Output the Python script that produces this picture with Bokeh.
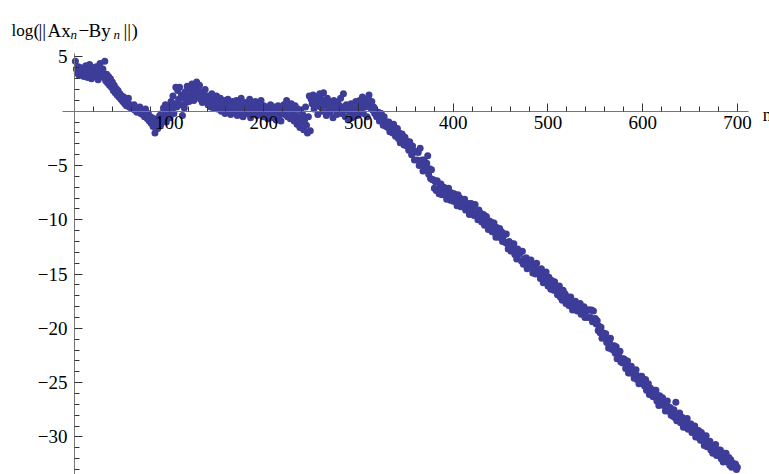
from bokeh.plotting import figure
from bokeh.models import Range1d, FixedTicker, CustomJSTickFormatter, Label
from bokeh.embed import file_html
from bokeh.resources import INLINE

# log(||A x_n - B y_n||), n = 1 .. 700
log_residual = [
    4.6, 3.9, 3.5, 4.1, 3.3, 3.7, 4.0, 3.4, 3.6, 3.2,
    3.9, 4.2, 3.5, 3.1, 3.8, 4.3, 3.6, 3.0, 3.4, 4.0,
    3.7, 3.2, 4.1, 3.5, 2.9, 3.8, 4.4, 3.3, 3.6, 3.9,
    3.1, 4.6, 2.8, 3.4, 2.6, 3.2, 2.4, 3.0, 2.2, 2.7,
    1.9, 2.4, 1.7, 2.1, 1.5, 1.9, 1.3, 1.6, 1.1, 1.4,
    0.9, 1.3, 0.7, 1.0, 0.5, 0.8, 1.2, 0.4, 0.6, 0.3,
    0.5, 0.2, 0.6, 0.1, 0.3, -0.1, 0.2, 0.0, 0.4, -0.2,
    0.1, -0.3, -0.1, -0.5, 0.2, -0.4, -0.7, -0.2, -0.9, -0.5,
    -1.1, -0.6, -1.4, -0.8, -2.0, -1.2, -0.7, -1.6, -1.0, -0.4,
    -1.3, -0.2, -0.8, 0.3, -0.5, 0.6, -1.0, 0.1, -0.3, 0.5,
    -0.6, 0.9, 0.2, 1.4, -0.2, 0.7, 2.2, 0.4, 1.9, 1.1,
    2.2, 0.6, 1.5, -0.4, 1.2, 0.3, 1.8, 0.8, 2.3, 1.4,
    0.9, 2.0, 1.3, 2.5, 1.7, 1.0, 2.2, 1.5, 2.7, 2.0,
    1.4, 2.4, 1.1, 1.8, 0.8, 1.6, 1.2, 2.0, 0.9, 1.4,
    0.6, 1.3, 1.0, 0.4, 1.6, 0.8, 0.3, 1.1, 0.6, 1.4,
    0.2, 0.9, 0.5, 1.2, 0.0, 0.7, 0.3, 1.0, -0.2, 0.6,
    0.4, 1.1, 0.1, 0.8, -0.3, 0.5, 0.9, 0.0, 0.6, 0.2,
    1.0, -0.4, 0.4, 0.7, -0.1, 1.2, 0.3, -0.5, 0.6, 0.1,
    0.8, -0.2, 0.5, 0.0, 1.1, -0.6, 0.3, 0.7, -0.3, 0.4,
    0.9, 0.1, -0.4, 0.6, 0.2, -0.1, 1.0, 0.3, -0.5, 0.5,
    -0.2, 0.4, 0.0, -0.7, 0.3, -0.3, 0.6, -0.1, 0.2, -0.6,
    0.4, -0.2, -0.8, 0.1, 0.5, -0.4, 0.0, -0.9, 0.3, -0.1,
    0.6, -0.3, 0.2, 1.0, -0.5, 0.4, 0.1, -0.7, 0.7, -0.2,
    0.3, -0.9, 0.5, -0.4, -1.2, 0.2, -0.6, -1.5, 0.1, -1.0,
    -0.3, -1.7, -0.8, 0.4, -1.3, -2.0, -0.5, 1.4, -1.8, 1.1,
    0.7, 1.5, 0.2, 1.0, 0.5, 1.3, -0.3, 0.8, 1.6, 0.4,
    1.1, 0.0, 1.7, 0.6, 0.9, -0.4, 1.2, 0.3, 0.7, -0.1,
    0.9, 0.4, -0.6, 1.0, 0.2, 0.6, -0.3, 0.8, 0.0, 0.5,
    1.2, -0.2, 0.3, 1.6, 0.1, -0.5, 0.6, 0.2, -0.8, 0.4,
    -0.1, 0.7, -0.6, 0.3, 0.0, -0.3, 0.9, 0.2, -0.4, 0.5,
    1.0, 0.1, 0.6, 1.3, -0.2, 1.1, 0.4, 0.8, -0.5, 1.2,
    1.5, 0.7, 0.3, 0.9, 0.1, 0.4, -0.2, 0.0, -0.5, -0.3,
    -0.1, -0.9, -0.5, -0.2, -0.9, -1.3, -0.5, -1.0, -1.4, -1.0,
    -1.5, -1.0, -1.9, -1.4, -1.3, -2.0, -1.2, -1.9, -2.3, -1.8,
    -1.6, -2.5, -2.0, -2.9, -2.3, -2.1, -2.8, -3.1, -2.4, -2.8,
    -3.2, -2.8, -3.6, -2.8, -3.3, -4.0, -3.2, -3.8, -4.5, -3.7,
    -3.7, -4.5, -3.8, -5.0, -3.4, -4.8, -4.5, -5.5, -4.5, -5.3,
    -5.4, -4.8, -4.1, -5.8, -5.3, -6.2, -5.4, -6.3, -6.3, -7.1,
    -6.5, -7.3, -6.4, -7.2, -7.6, -6.9, -6.7, -7.7, -7.2, -7.0,
    -7.7, -7.1, -8.1, -7.4, -7.1, -7.9, -8.2, -7.5, -7.8, -8.3,
    -7.6, -8.3, -8.0, -8.7, -7.7, -8.3, -8.0, -8.8, -8.2, -8.7,
    -8.7, -8.1, -9.1, -8.5, -9.1, -8.5, -9.5, -8.8, -8.5, -9.3,
    -8.8, -9.6, -8.6, -9.5, -9.4, -10.0, -9.1, -9.9, -9.4, -10.2,
    -10.1, -9.5, -10.5, -10.0, -9.7, -10.4, -10.9, -10.1, -10.6, -10.2,
    -11.1, -10.6, -10.3, -11.2, -11.6, -10.7, -11.1, -11.6, -10.8, -11.5,
    -11.1, -12.0, -11.5, -11.3, -12.1, -11.3, -12.2, -12.7, -12.0, -12.4,
    -12.9, -12.2, -12.8, -12.2, -13.2, -12.8, -13.6, -12.7, -13.2, -13.1,
    -13.0, -13.8, -12.9, -14.1, -13.6, -13.9, -13.5, -14.5, -13.7, -14.1,
    -14.4, -13.7, -14.3, -14.9, -14.1, -14.4, -15.0, -14.0, -14.9, -14.6,
    -14.7, -15.4, -14.5, -15.2, -15.8, -15.0, -15.4, -14.8, -15.8, -16.1,
    -15.3, -16.0, -16.4, -15.6, -15.9, -16.5, -15.7, -16.5, -16.1, -16.9,
    -16.7, -16.1, -17.1, -16.7, -17.4, -16.5, -17.1, -16.8, -17.7, -17.1,
    -17.1, -17.9, -17.4, -17.1, -18.0, -18.3, -17.6, -17.9, -17.5, -18.2,
    -18.4, -17.8, -18.2, -17.7, -18.7, -18.1, -18.6, -18.0, -19.0, -18.4,
    -18.3, -19.0, -18.3, -18.3, -19.0, -18.3, -19.4, -18.4, -19.3, -19.1,
    -19.6, -19.3, -20.2, -19.8, -20.4, -19.9, -20.9, -20.4, -20.8, -20.5,
    -20.5, -21.3, -21.0, -21.8, -21.1, -20.9, -21.9, -21.6, -22.0, -21.6,
    -22.3, -21.7, -22.8, -22.2, -22.6, -22.1, -23.1, -22.8, -23.2, -22.8,
    -22.9, -23.7, -23.2, -23.0, -24.1, -23.7, -24.1, -23.5, -24.1, -23.9,
    -24.6, -24.1, -23.8, -24.7, -24.4, -25.1, -24.4, -24.8, -24.4, -25.1,
    -24.7, -25.3, -24.7, -25.7, -25.4, -25.1, -26.1, -25.5, -26.1, -25.8,
    -26.3, -25.7, -26.2, -25.7, -26.7, -26.2, -27.1, -26.2, -26.6, -26.9,
    -26.4, -27.1, -26.9, -27.6, -26.9, -26.7, -27.6, -27.5, -27.3, -28.0,
    -27.5, -28.1, -27.5, -28.2, -26.8, -28.5, -27.9, -28.4, -27.8, -28.7,
    -28.7, -28.2, -29.1, -28.6, -28.4, -29.1, -28.3, -29.3, -28.9, -28.8,
    -28.8, -29.6, -29.1, -29.5, -29.0, -30.0, -29.5, -30.0, -29.4, -30.1,
    -30.3, -29.6, -30.3, -29.9, -30.8, -30.3, -29.9, -30.9, -30.4, -30.8,
    -30.4, -31.2, -30.8, -31.5, -30.8, -31.3, -30.7, -31.7, -31.3, -31.2,
    -31.7, -31.2, -32.0, -31.5, -32.3, -31.5, -32.0, -31.5, -32.3, -32.0,
    -31.9, -32.6, -32.1, -32.8, -32.4, -32.7, -32.7, -32.5, -33.0, -32.8,
]
n_index = list(range(1, len(log_residual) + 1))

x_major_ticks = [100, 200, 300, 400, 500, 600, 700]
x_minor_ticks = [t for t in range(20, 701, 20) if t % 100 != 0]
y_major_ticks = [5, -5, -10, -15, -20, -25, -30]
y_minor_ticks = [t for t in range(-33, 6) if t % 5 != 0]

SERIF = "Liberation Serif"
DOT = "#3d3d99"

p = figure(width=769, height=474,
           x_range=Range1d(-78.1, 733.9), y_range=Range1d(-33.46, 10.2),
           output_backend="svg", toolbar_location=None, min_border=0,
           background_fill_color="white", border_fill_color="white")
p.outline_line_color = None
p.grid.visible = False

p.scatter(n_index, log_residual, size=7, fill_color=DOT, line_color=None)

fmt = CustomJSTickFormatter(code="return tick < 0 ? '\\u2212' + Math.abs(tick) : String(tick);")

xa = p.xaxis[0]
xa.fixed_location = 0
xa.bounds = (-12.7, 712)
xa.ticker = FixedTicker(ticks=x_major_ticks, minor_ticks=x_minor_ticks)
xa.formatter = fmt
ya = p.yaxis[0]
ya.fixed_location = 0
ya.bounds = (-33.46, 5.3)
ya.ticker = FixedTicker(ticks=y_major_ticks, minor_ticks=y_minor_ticks)
ya.formatter = fmt

for ax in (xa, ya):
    ax.axis_line_color = "#777777"
    ax.axis_line_width = 1
    ax.major_tick_line_color = "#333333"
    ax.minor_tick_line_color = "#333333"
    ax.major_tick_in = 8
    ax.major_tick_out = 0
    ax.minor_tick_in = 5
    ax.minor_tick_out = 0
    ax.major_label_text_font = SERIF
    ax.major_label_text_font_size = "19px"
    ax.major_label_text_color = "black"
xa.major_label_standoff = 5
ya.major_label_standoff = 7

# axis labels: log(||Ax_n - By_n||)
label_y = 7.44
pieces = [
    ("log", -63, 0, "17px", "normal"),
    ("(", -41, 0, "19px", "normal"),
    ("||", -36, 0, "19px", "normal"),
    ("Ax", -27, 0, "19px", "normal"),
    ("n", -4, -4, "13px", "italic"),
    ("\u2212", 4, 0, "19px", "normal"),
    ("By", 14, 0, "19px", "normal"),
    ("n", 39, -4, "13px", "italic"),
    ("||", 49, 0, "19px", "normal"),
    (")", 57, 0, "19px", "normal"),
]
for txt, dx, dy, fs, style in pieces:
    p.add_layout(Label(x=0, y=label_y, x_offset=dx, y_offset=dy, text=txt,
                       text_font=SERIF, text_font_size=fs, text_font_style=style,
                       text_color="black", text_baseline="alphabetic"))
p.add_layout(Label(x=712, y=0, x_offset=14, y_offset=-4, text="n",
                   text_font=SERIF, text_font_size="18px", text_color="black",
                   text_baseline="alphabetic"))

open("out.html", "w").write(file_html(p, INLINE))
